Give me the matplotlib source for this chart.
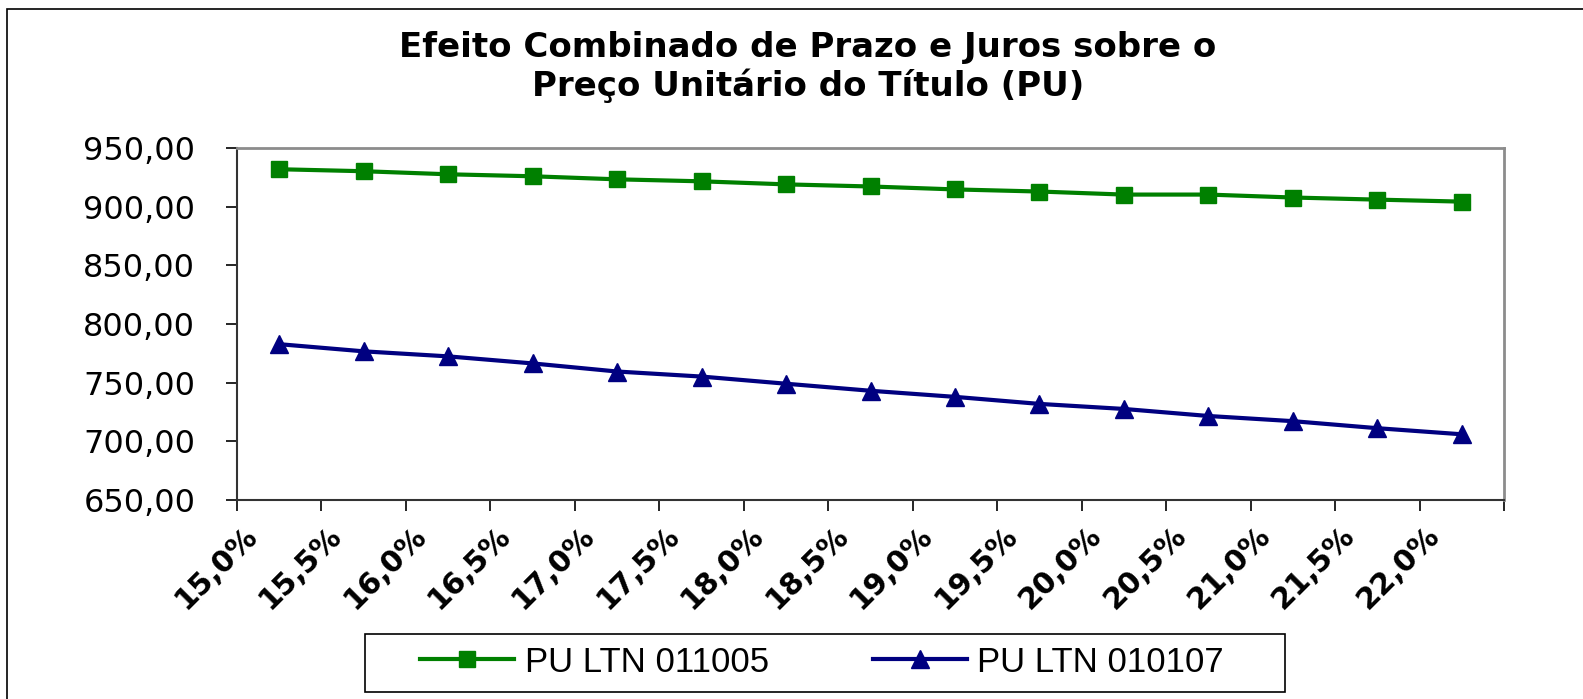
import matplotlib.pyplot as plt
import matplotlib.transforms as mtransforms
from matplotlib.patches import Rectangle

# dados
taxas = ['15,0%', '15,5%', '16,0%', '16,5%', '17,0%', '17,5%', '18,0%', '18,5%',
         '19,0%', '19,5%', '20,0%', '20,5%', '21,0%', '21,5%', '22,0%']
pu_011005 = [931.9, 930.2, 927.6, 925.9, 923.3, 921.6, 919.0, 917.2,
             914.7, 912.9, 910.3, 910.3, 907.8, 906.0, 904.3]
pu_010107 = [782.8, 776.7, 772.4, 766.4, 759.5, 755.2, 749.1, 743.1,
             737.9, 731.9, 727.6, 721.6, 717.2, 711.2, 706.0]
yticks = [650, 700, 750, 800, 850, 900, 950]

W, H = 1583, 699
fig = plt.figure(figsize=(W/100, H/100), dpi=100)

# borda do grafico
fig.patches.append(Rectangle((7/W, -0.1), 1.2, 1 - 9/H + 0.1, transform=fig.transFigure,
                             fill=False, edgecolor='black', linewidth=1.2))

ax = fig.add_axes([237/W, 1 - 500/H, (1504-237)/W, (500-148)/H])
x = list(range(len(taxas)))
ax.plot(x, pu_011005, color='#008000', lw=3, marker='s', ms=11, label='PU LTN 011005')
ax.plot(x, pu_010107, color='#000080', lw=3, marker='^', ms=13, label='PU LTN 010107')

ax.set_xlim(-0.5, len(taxas) - 0.5)
ax.set_ylim(650, 950)
ax.set_yticks(yticks)
ax.set_yticklabels(['{:.2f}'.format(v).replace('.', ',') for v in yticks],
                   fontsize=23, family='DejaVu Sans')
ax.tick_params(axis='y', direction='out', length=8, width=1.2, pad=22)

ax.set_xticks(x)
ax.set_xticklabels(taxas, rotation=45, ha='right', va='top', rotation_mode='anchor',
                   fontsize=21.5, fontweight='bold', family='DejaVu Sans')
ax.set_xticks([i - 0.5 for i in range(len(taxas) + 1)], minor=True)
ax.tick_params(axis='x', which='major', length=0, pad=15)
ax.tick_params(axis='x', which='minor', direction='out', length=8, width=1.2)
off = mtransforms.ScaledTranslation(-37/100, 0, fig.dpi_scale_trans)
for lab in ax.get_xticklabels():
    lab.set_transform(lab.get_transform() + off)

for s in ['left', 'bottom']:
    ax.spines[s].set_color('#333333')
    ax.spines[s].set_linewidth(1.5)
for s in ['top', 'right']:
    ax.spines[s].set_color('#8c8c8c')
    ax.spines[s].set_linewidth(2)

fig.text(808/W, 1 - 48/H, 'Efeito Combinado de Prazo e Juros sobre o',
         ha='center', va='center', fontsize=24.5, fontweight='bold', family='DejaVu Sans')
fig.text(808/W, 1 - 86/H, 'Preço Unitário do Título (PU)',
         ha='center', va='center', fontsize=24.5, fontweight='bold', family='DejaVu Sans')

# caixa da legenda
fig.patches.append(Rectangle((365/W, 1 - 692/H), 920/W, 58/H, transform=fig.transFigure,
                             fill=False, edgecolor='black', linewidth=1.2))
leg = fig.legend(loc='center', bbox_to_anchor=(822/W, 1 - 662/H), ncol=2,
                 frameon=False, prop={'family': 'Liberation Sans', 'size': 25},
                 handlelength=2.7, columnspacing=3.0, borderpad=0.2, handletextpad=0.3)

fig.savefig('out.png', dpi=100)
